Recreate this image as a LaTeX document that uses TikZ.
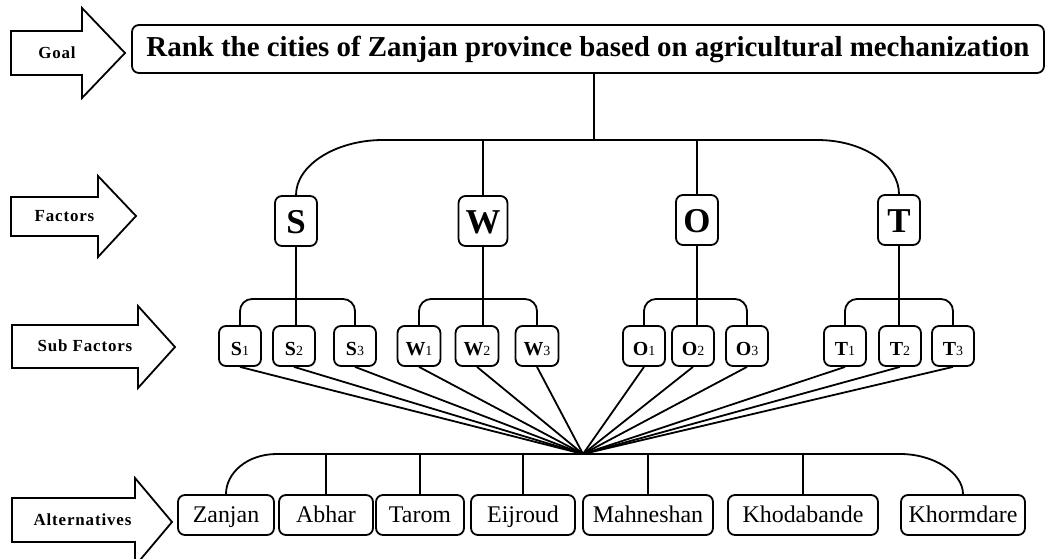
\documentclass[tikz,border=0pt]{standalone}
\usepackage{fontspec}
\setmainfont{Liberation Serif}
\newfontfamily\sidefont[LetterSpace=5]{Liberation Serif}
\newcommand{\subf}[2]{\textbf{#1}{\fontsize{14}{14}\selectfont #2}}

\begin{document}
\begin{tikzpicture}[x=1bp,y=-1bp,line width=1.8bp,
  box/.style={draw,rounded corners=7bp,fill=white,inner sep=0pt},
  goalbox/.style={box,minimum width=912bp,minimum height=48bp,text height=20pt,text depth=4pt,font=\fontsize{29}{29}\selectfont\bfseries},
  factor/.style={box,minimum width=42bp,minimum height=50bp,inner xsep=7bp,text height=25pt,text depth=0pt,font=\fontsize{35}{35}\selectfont\bfseries},
  sub/.style={box,minimum width=42bp,minimum height=40bp,inner xsep=8bp,text height=19pt,text depth=0pt,font=\fontsize{20}{20}\selectfont},
  alt/.style={box,minimum height=40bp,text height=20pt,text depth=4pt,font=\fontsize{24}{24}\selectfont},
  side/.style={font=\sidefont\fontsize{17}{17}\selectfont\bfseries},
  bigarrow/.style={draw,fill=white,line join=miter}]
            \useasboundingbox (0,0) rectangle (1050,559);
            % side arrows
            \draw[bigarrow] (11,31)--(82,31)--(82,8)--(125,53)--(82,98)--(82,75)--(11,75)--cycle;
            \node[side] (lgoal) at (57,53) {Goal};
            \draw[bigarrow] (11,197)--(98,197)--(98,176)--(136,216)--(98,257)--(98,236)--(11,236)--cycle;
            \node[side] (lfactors) at (64.5,216) {Factors};
            \draw[bigarrow] (12,325)--(138,325)--(138,306)--(175,347)--(138,388)--(138,368)--(12,368)--cycle;
            \node[side] (lsub) at (85,346) {Sub Factors};
            \draw[bigarrow] (12,498)--(135,498)--(135,478)--(172,522)--(135,566)--(135,542)--(12,542)--cycle;
            \node[side] (lalt) at (82.5,520) {Alternatives};
            %
            \node[goalbox] (goal) at (588,49) {Rank the cities of Zanjan province based on agricultural mechanization};
            \node[factor] (s) at (296,221) {S};
            \node[factor] (w) at (483,221) {W};
            \node[factor] (o) at (697,220) {O};
            \node[factor] (t) at (899,220) {T};
            \coordinate (topl) at (383,140);
            \coordinate (topr) at (817,140);
            \coordinate (topmid) at (594,140);
            \draw (goal.south -| topmid)--(topmid);
            \draw (s.north) .. controls (296,165) and (336,140) .. (topl)
              -- (topr) .. controls (864,140) and (899,165) .. (t.north);
            \draw (w.north)--(w.north |- topl);
            \draw (o.north)--(o.north |- topl);
            %
            \node[sub] (s1) at (240,346) {\subf{S}{1}};
            \node[sub] (s2) at (294,346) {\subf{S}{2}};
            \node[sub] (s3) at (355,346) {\subf{S}{3}};
            \node[sub] (w1) at (419,346) {\subf{W}{1}};
            \node[sub] (w2) at (477,346) {\subf{W}{2}};
            \node[sub] (w3) at (537,346) {\subf{W}{3}};
            \node[sub] (o1) at (644,346) {\subf{O}{1}};
            \node[sub] (o2) at (693,346) {\subf{O}{2}};
            \node[sub] (o3) at (747,346) {\subf{O}{3}};
            \node[sub] (t1) at (845,346) {\subf{T}{1}};
            \node[sub] (t2) at (900,346) {\subf{T}{2}};
            \node[sub] (t3) at (953,346) {\subf{T}{3}};
            \coordinate (subbar) at (0,299);
            \foreach \f in {s,w,o,t}{
              \draw[rounded corners=12bp] (\f1.north)--(\f1.north |- subbar)--(\f3.north |- subbar)--(\f3.north);
              \draw (\f.south)--(\f.south |- \f2.north);
            }
            %
            \foreach \nm/\txt/\cx/\bw in {zanjan/Zanjan/226/96, abhar/Abhar/326/94, tarom/Tarom/420/88,
                eijroud/Eijroud/523/104, mahneshan/Mahneshan/648/130, khodabande/Khodabande/803/150,
                khormdare/Khormdare/963/124}
              \node[alt,minimum width=\bw bp] (\nm) at (\cx,515) {\txt};
            \coordinate (hub) at (583,454);
            \draw (zanjan.north) .. controls (226,473) and (247,454) .. (277,454)
              -- (900,454) .. controls (934,454) and (963,473) .. (khormdare.north);
            \foreach \a in {abhar,tarom,eijroud,mahneshan,khodabande}
              \draw (\a.north)--(\a.north |- hub);
            \foreach \f in {s,w,o,t}
              \foreach \i in {1,2,3}
                \draw (\f\i.south)--(hub);
        \end{tikzpicture}
\end{document}
